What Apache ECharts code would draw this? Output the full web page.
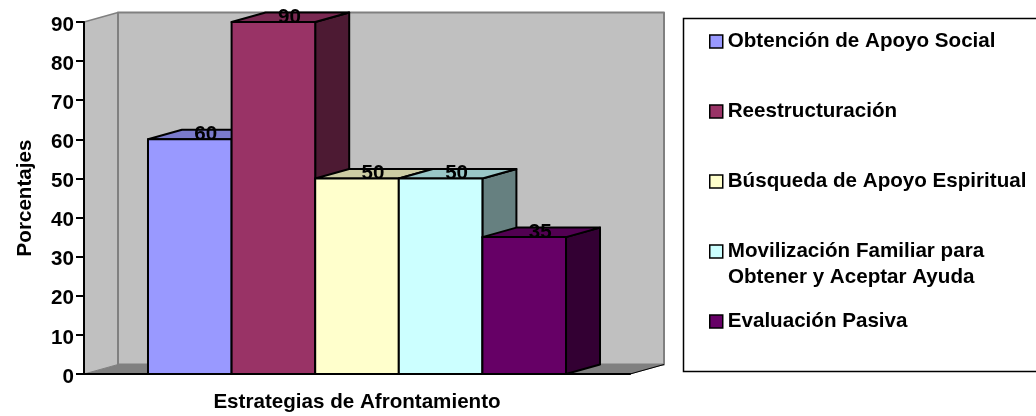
<!DOCTYPE html>
<html><head><meta charset="utf-8">
<style>html,body{margin:0;padding:0;background:#fff}#c{width:1036px;height:416px}</style>
<script src="https://cdn.jsdelivr.net/npm/echarts@6/dist/echarts.min.js"></script>
</head><body><div id="c"></div>
<script>
const categories = ['Estrategias de Afrontamiento'];
const seriesNames = ['Obtención de Apoyo Social','Reestructuración','Búsqueda de Apoyo Espiritual','Movilización Familiar para Obtener y Aceptar Ayuda','Evaluación Pasiva'];
const seriesValues = [60, 90, 50, 50, 35];
const frontColors = ['#9999FF','#993366','#FFFFCC','#CCFFFF','#660066'];
const topColors = ['#7A7ACC','#7A2952','#CCCCA3','#99C6C6','#520052'];
const sideColors = ['#4D4D80','#4D1A33','#808066','#668080','#330033'];
const depthX = 34, depthY = 9.5;
const fontPx = 20.6;
const font = 'bold '+fontPx+'px "Liberation Sans", Arial, sans-serif';
const band = 0.7656;

function poly(points, fill, stroke, lw){
  return {type:'polygon', shape:{points}, silent:true,
    style:{fill, stroke, lineWidth:lw, lineJoin:'round'}};
}
function wallRender(params, api){
  const p0 = api.coord([0,0]), pt = api.coord([0,api.value(1)]);
  const w = api.size([1,0])[0];
  const x0 = p0[0]-w/2, x1 = p0[0]+w/2, yb = p0[1], yt = pt[1];
  const g = '#808080';
  return {type:'group', children:[
    poly([[x0,yt],[x0+depthX,yt-depthY],[x0+depthX,yb-depthY],[x0,yb]],'#C0C0C0',null,0),
    poly([[x0+depthX,yt-depthY],[x1+depthX,yt-depthY],[x1+depthX,yb-depthY],[x0+depthX,yb-depthY]],'#C0C0C0',g,2),
    poly([[x0,yb],[x0+depthX,yb-depthY],[x1+depthX,yb-depthY],[x1,yb]],'#808080',g,1),
    {type:'polyline',shape:{points:[[x0,yt],[x0+depthX,yt-depthY]]},silent:true,style:{stroke:g,lineWidth:1.5,fill:null}},
    {type:'polyline',shape:{points:[[x1,yb],[x1+depthX,yb-depthY]]},silent:true,style:{stroke:'#000',lineWidth:1,fill:null}}
  ]};
}
function barRender(i){
  return function(params, api){
    const v = api.value(1);
    const c = api.coord([0,0]), t = api.coord([0,v]);
    const w = api.size([1,0])[0]*band/seriesValues.length;
    const x0 = c[0]-w*seriesValues.length/2+i*w, x1 = x0+w, yb = c[1], yt = t[1];
    const k = '#000';
    return {type:'group', children:[
      poly([[x1,yb],[x1+depthX,yb-depthY],[x1+depthX,yt-depthY],[x1,yt]],sideColors[i],k,2),
      poly([[x0,yt],[x0+depthX,yt-depthY],[x1+depthX,yt-depthY],[x1,yt]],topColors[i],k,2),
      poly([[x0,yb],[x0,yt],[x1,yt],[x1,yb]],frontColors[i],k,2),
      {type:'text',silent:true,style:{text:String(v),x:(x0+x1)/2+16,y:yt-5,font,fill:'#000',align:'center',verticalAlign:'middle'}}
    ]};
  };
}
const legendTops = [31,101,171,241,311];
const legendLabels = ['Obtención de Apoyo Social','Reestructuración','Búsqueda de Apoyo Espiritual','Movilización Familiar para','Evaluación Pasiva'];
const chart = echarts.init(document.getElementById('c'),null,{renderer:'canvas'});
chart.setOption({
  animation:false,
  backgroundColor:'#fff',
  grid:{left:84,top:22,width:546,height:352,containLabel:false,outerBoundsMode:'none'},
  xAxis:{type:'category',data:categories,z:5,
    name:categories[0],nameLocation:'middle',nameGap:18,
    nameTextStyle:{fontFamily:'Liberation Sans',fontWeight:'bold',fontSize:fontPx,color:'#000'},
    axisLabel:{show:false},
    axisLine:{lineStyle:{color:'#000',width:2}},
    axisTick:{length:7,lineStyle:{color:'#000',width:1.5}}},
  yAxis:{type:'value',min:0,max:90,interval:10,z:5,
    name:'Porcentajes',nameLocation:'middle',nameGap:48,nameRotate:90,
    nameTextStyle:{fontFamily:'Liberation Sans',fontWeight:'bold',fontSize:fontPx,color:'#000'},
    axisLabel:{fontFamily:'Liberation Sans',fontWeight:'bold',fontSize:fontPx,color:'#000',margin:10,verticalAlign:'top',lineHeight:6},
    axisLine:{show:true,lineStyle:{color:'#000',width:2}},
    axisTick:{show:true,length:8,lineStyle:{color:'#000',width:2}},
    splitLine:{show:false}},
  legend: seriesNames.map((n,i)=>({
    data:[n], left:709, top:legendTops[i], orient:'vertical', selectedMode:false, padding:0,
    icon:'rect', itemWidth:13, itemHeight:13, itemGap:0,
    itemStyle:{color:frontColors[i],borderColor:'#000',borderWidth:1.5},
    formatter:()=>legendLabels[i],
    textStyle:{fontFamily:'Liberation Sans',fontWeight:'bold',fontSize:fontPx,color:'#000'}
  })),
  graphic:[
    {type:'rect',shape:{x:683.5,y:18.5,width:356,height:353},style:{fill:'#fff',stroke:'#000',lineWidth:1.5},z:-1},
    {type:'text',style:{x:728,y:277,text:'Obtener y Aceptar Ayuda',font,fill:'#000',verticalAlign:'middle'},z:10}
  ],
  series:[
    {type:'custom',name:'walls',z:1,renderItem:wallRender,data:[[0,90]],silent:true,encode:{x:0,y:1}},
    ...seriesNames.map((n,i)=>({type:'custom',name:n,z:2,renderItem:barRender(i),
      itemStyle:{color:frontColors[i]},data:[[0,seriesValues[i]]],encode:{x:0,y:1}}))
  ]
});
</script></body></html>
